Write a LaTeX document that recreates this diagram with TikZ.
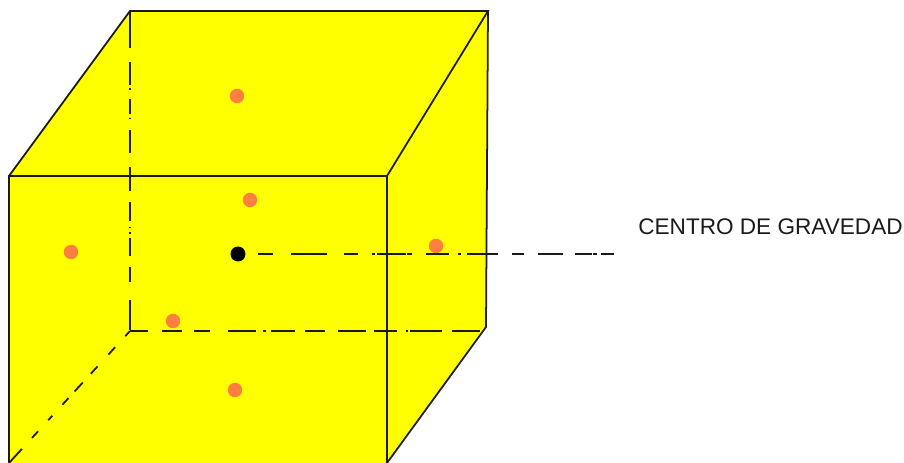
\documentclass[tikz,border=0pt]{standalone}
\usepackage{fontspec}
\setmainfont{Liberation Sans}
\definecolor{ink}{HTML}{1A1A1A}
\definecolor{faceyellow}{HTML}{FFFF00}
\definecolor{markorange}{HTML}{FF7F40}
\def\px{0.569pt}
\tikzset{
  every node/.style={text=ink},
  edge/.style={draw=ink, line width=1pt},
  hidden/.style={edge},
  facemark/.style={circle, fill=markorange, inner sep=0pt, minimum size=0.29cm},
  centremark/.style={circle, fill=black, inner sep=0pt, minimum size=0.3cm},
  note/.style={font=\fontsize{12.85}{15}\selectfont, inner sep=0pt},
  axisdash/.style={dash pattern=on 0*\px off 20*\px on 15*\px off 18*\px on 36*\px off 17*\px on 14*\px off 14*\px on 3*\px off 2*\px on 29*\px off 1*\px on 5*\px off 14*\px on 23*\px off 9*\px on 3*\px off 6*\px on 31*\px off 14*\px on 12*\px off 14*\px on 25*\px off 12*\px on 17*\px off 1*\px on 4*\px off 4*\px on 13*\px off 50*\px},
  floordash/.style={dash pattern=on 18*\px off 14*\px on 20*\px off 12*\px on 16*\px off 18*\px on 28*\px off 7*\px on 3*\px off 5*\px on 24*\px off 10*\px on 20*\px off 13*\px on 28*\px off 8*\px on 23*\px off 9*\px on 2*\px off 2*\px on 32*\px off 10*\px on 28*\px off 20*\px},
  postdash/.style={dash pattern=on 37*\px off 14*\px on 23*\px off 3*\px on 2*\px off 9*\px on 15*\px off 4*\px on 1*\px off 11*\px on 23*\px off 14*\px on 24*\px off 11*\px on 19*\px off 6*\px on 1*\px off 4*\px on 2*\px off 4*\px on 18*\px off 11*\px on 15*\px off 18*\px on 30*\px off 20*\px},
  raydash/.style={dash pattern=on 7*\px off 15*\px on 10*\px off 16*\px on 10*\px off 12*\px on 12*\px off 9*\px on 9*\px off 15*\px on 6*\px off 15*\px on 9*\px off 15*\px on 30*\px off 20*\px},
}
\begin{document}
\begin{tikzpicture}[x=0.02cm, y=-0.02cm]
  \useasboundingbox (0,0) rectangle (904,463);

  \coordinate (ftl) at (9,176);
  \coordinate (ftr) at (387,176);
  \coordinate (fbl) at (9,463);
  \coordinate (fbr) at (387,463);
  \coordinate (btl) at (130,11);
  \coordinate (btr) at (488,11);
  \coordinate (bbl) at (130,331);
  \coordinate (bbr) at (486,327);
  \coordinate (bbm) at (481,331);
  \coordinate (axisend) at (614,254);

  \fill[faceyellow] (ftl) -- (btl) -- (btr) -- (bbr) -- (fbr) -- (fbl) -- cycle;

  \draw[edge] (fbl) -- (ftl) -- (ftr) -- (fbr);
  \draw[edge] (ftl) -- (btl) -- (btr) -- (ftr);
  \draw[edge] (btr) -- (bbr) -- (fbr);

  % hidden edges of the box
  \draw[hidden, postdash] (btl) -- (bbl);
  \draw[hidden, floordash] (bbl) -- (bbm);
  \draw[hidden, raydash] (bbl) -- (fbl);

  \node[centremark] (cg) at (238,254) {};
  \draw[hidden, axisdash] (cg.center) -- (axisend);

  \node[facemark] (top) at (237,96) {};
  \node[facemark] (back) at (250,200) {};
  \node[facemark] (left) at (71,252) {};
  \node[facemark] (right) at (436,246) {};
  \node[facemark] (front) at (173,321) {};
  \node[facemark] (bottom) at (235,390) {};

  \node[note, anchor=west] (cglabel) at (638,227) {CENTRO DE GRAVEDAD};
\end{tikzpicture}
\end{document}
